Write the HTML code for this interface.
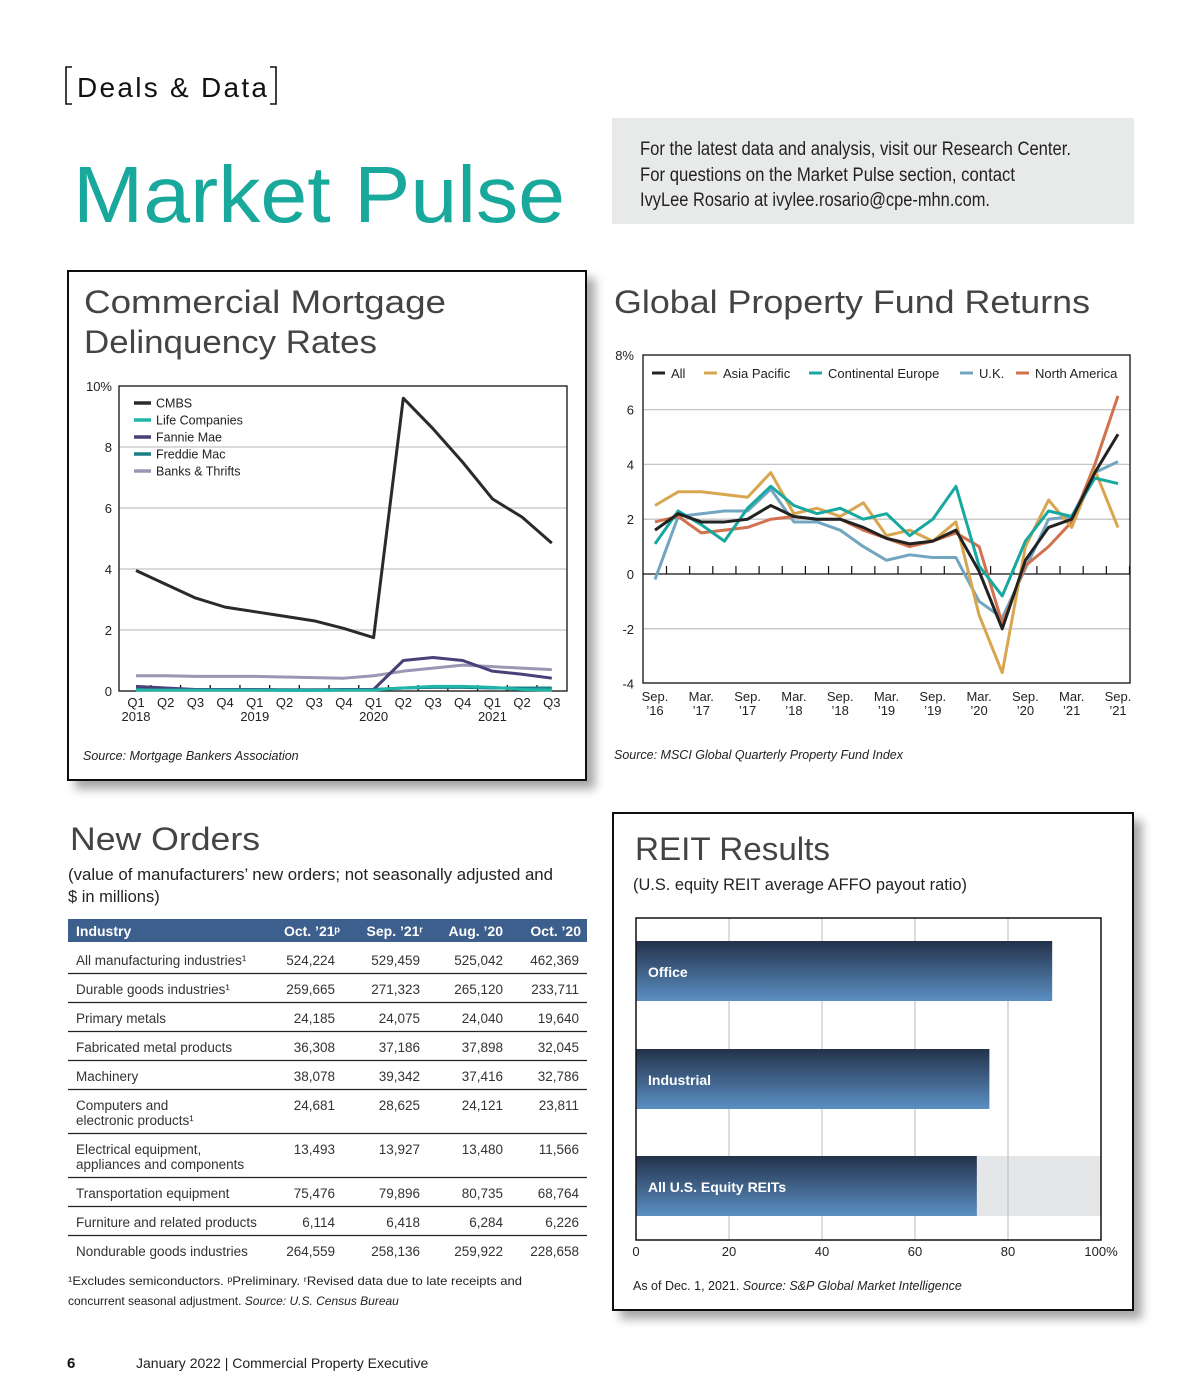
<!DOCTYPE html>
<html><head><meta charset="utf-8"><style>
html,body{margin:0;padding:0;background:#fff;}
svg{display:block;font-family:"Liberation Sans",sans-serif;}
</style></head><body>
<svg id="pg" width="1200" height="1400" viewBox="0 0 1200 1400" xmlns="http://www.w3.org/2000/svg">
<defs>
<filter id="sh" x="-10%" y="-10%" width="130%" height="130%"><feDropShadow dx="8" dy="8" stdDeviation="5" flood-color="#000" flood-opacity="0.35"/></filter>
<linearGradient id="bg" x1="0" y1="0" x2="0" y2="1"><stop offset="0" stop-color="#23324a"/><stop offset="1" stop-color="#5b8fc4"/></linearGradient>
</defs>
<!-- header -->
<g>
<path d="M72 67 H66 V104 H72 M270 67 H276 V104 H270" fill="none" stroke="#111" stroke-width="1.6"/>
<text x="77" y="97" font-size="28" fill="#111" textLength="190">Deals &amp; Data</text>
</g>
<text x="73" y="222" font-size="80" fill="#19a89c" textLength="492" lengthAdjust="spacingAndGlyphs">Market Pulse</text>
<g>
<rect x="612" y="118" width="522" height="106" fill="#e8e9e9"/>
<text x="640" y="155" font-size="19" fill="#222" textLength="431" lengthAdjust="spacingAndGlyphs">For the latest data and analysis, visit our Research Center.</text>
<text x="640" y="181" font-size="19" fill="#222" textLength="375" lengthAdjust="spacingAndGlyphs">For questions on the Market Pulse section, contact</text>
<text x="640" y="206" font-size="19" fill="#222" textLength="350" lengthAdjust="spacingAndGlyphs">IvyLee Rosario at ivylee.rosario@cpe-mhn.com.</text>
</g>

<!-- chart 1 box -->
<rect x="68" y="271" width="518" height="509" fill="#fff" stroke="#111" stroke-width="2" filter="url(#sh)"/>
<text x="84" y="313" font-size="32" fill="#444" textLength="362" lengthAdjust="spacingAndGlyphs">Commercial Mortgage</text>
<text x="84" y="353" font-size="32" fill="#444" textLength="293" lengthAdjust="spacingAndGlyphs">Delinquency Rates</text>
<g id="c1"></g>
<text x="83" y="760" font-size="12.5" font-style="italic" fill="#222">Source: Mortgage Bankers Association</text>

<!-- chart 2 -->
<text x="614" y="313" font-size="32" fill="#444" textLength="476" lengthAdjust="spacingAndGlyphs">Global Property Fund Returns</text>
<g id="c2"></g>
<text x="614" y="759" font-size="12.5" font-style="italic" fill="#222">Source: MSCI Global Quarterly Property Fund Index</text>

<!-- New Orders -->
<text x="70" y="850" font-size="32" fill="#444" textLength="190" lengthAdjust="spacingAndGlyphs">New Orders</text>
<text x="68" y="880" font-size="16.5" fill="#222" textLength="485" lengthAdjust="spacingAndGlyphs">(value of manufacturers’ new orders; not seasonally adjusted and</text>
<text x="68" y="902" font-size="16.5" fill="#222">$ in millions)</text>
<g id="tbl"></g>
<text x="68" y="1285" font-size="12" fill="#222" textLength="454" lengthAdjust="spacingAndGlyphs">¹Excludes semiconductors. ᵖPreliminary. ʳRevised data due to late receipts and</text>
<text x="68" y="1305" font-size="12" fill="#222">concurrent seasonal adjustment. <tspan font-style="italic">Source: U.S. Census Bureau</tspan></text>

<!-- REIT -->
<rect x="613" y="813" width="520" height="497" fill="#fff" stroke="#111" stroke-width="2" filter="url(#sh)"/>
<text x="635" y="860" font-size="32" fill="#444" textLength="195" lengthAdjust="spacingAndGlyphs">REIT Results</text>
<text x="633" y="890" font-size="16.5" fill="#222" textLength="334" lengthAdjust="spacingAndGlyphs">(U.S. equity REIT average AFFO payout ratio)</text>
<g id="c3"></g>
<text x="633" y="1290" font-size="12.5" fill="#222">As of Dec. 1, 2021. <tspan font-style="italic">Source: S&amp;P Global Market Intelligence</tspan></text>

<!-- footer -->
<text x="67" y="1368" font-size="15" font-weight="bold" fill="#111">6</text>
<text x="136" y="1368" font-size="14" fill="#222">January 2022  |  Commercial Property Executive</text>
</svg>
<script>
// ===== Chart 1 data =====
const c1Quarters = ["Q1","Q2","Q3","Q4","Q1","Q2","Q3","Q4","Q1","Q2","Q3","Q4","Q1","Q2","Q3"];
const c1Years = ["2018","2019","2020","2021"];
const c1YTicks = [0,2,4,6,8,10];
const c1Names = ["CMBS","Life Companies","Fannie Mae","Freddie Mac","Banks & Thrifts"];
const cmbs = [3.95,3.5,3.05,2.75,2.6,2.45,2.3,2.05,1.75,9.6,8.6,7.5,6.3,5.7,4.85];
const lifeCos = [0.03,0.03,0.03,0.03,0.03,0.02,0.02,0.03,0.03,0.1,0.15,0.15,0.12,0.05,0.03];
const fannie = [0.15,0.1,0.05,0.05,0.05,0.03,0.03,0.05,0.05,1.0,1.1,1.0,0.65,0.55,0.42];
const freddie = [0.06,0.05,0.05,0.05,0.05,0.04,0.04,0.04,0.05,0.1,0.12,0.12,0.1,0.1,0.1];
const banks = [0.5,0.5,0.48,0.48,0.48,0.46,0.44,0.42,0.5,0.65,0.75,0.85,0.8,0.75,0.7];
// ===== Chart 2 data =====
const c2XLabels = ["Sep.|’16","Mar.|’17","Sep.|’17","Mar.|’18","Sep.|’18","Mar.|’19","Sep.|’19","Mar.|’20","Sep.|’20","Mar.|’21","Sep.|’21"];
const c2YTicks = [-4,-2,0,2,4,6,8];
const c2Names = ["All","Asia Pacific","Continental Europe","U.K.","North America"];
const allFunds = [1.6,2.2,1.9,1.9,2.0,2.5,2.1,2.0,2.0,1.7,1.3,1.1,1.2,1.6,0.1,-2.0,0.5,1.7,2.0,3.7,5.1];
const asiaPac = [2.5,3.0,3.0,2.9,2.8,3.7,2.2,2.4,2.1,2.6,1.4,1.6,1.2,1.9,-1.5,-3.6,1.0,2.7,1.7,3.8,1.7];
const contEurope = [1.1,2.3,1.8,1.2,2.4,3.2,2.5,2.2,2.4,2.0,2.2,1.4,2.0,3.2,0.3,-0.8,1.2,2.3,2.1,3.5,3.3];
const uk = [-0.2,2.1,2.2,2.3,2.3,3.1,1.9,1.9,1.6,1.0,0.5,0.7,0.6,0.6,-1.0,-1.6,0.2,2.0,2.1,3.7,4.1];
const northAm = [1.9,2.1,1.5,1.6,1.7,2.0,2.1,2.0,2.0,1.6,1.3,1.0,1.2,1.5,1.0,-1.8,0.3,1.0,1.9,4.0,6.5];
// ===== Chart 3 data =====
const reitCats = ["Office","Industrial","All U.S. Equity REITs"];
const reitVals = [89.5,76,73.3];
const reitTicks = [0,20,40,60,80,100];
// ===== Table data =====
const tblHead = ["Industry","Oct. ’21ᵖ","Sep. ’21ʳ","Aug. ’20","Oct. ’20"];
const tblRows = [
["All manufacturing industries¹","524,224","529,459","525,042","462,369"],
["Durable goods industries¹","259,665","271,323","265,120","233,711"],
["Primary metals","24,185","24,075","24,040","19,640"],
["Fabricated metal products","36,308","37,186","37,898","32,045"],
["Machinery","38,078","39,342","37,416","32,786"],
["Computers and|electronic products¹","24,681","28,625","24,121","23,811"],
["Electrical equipment,|appliances and components","13,493","13,927","13,480","11,566"],
["Transportation equipment","75,476","79,896","80,735","68,764"],
["Furniture and related products","6,114","6,418","6,284","6,226"],
["Nondurable goods industries","264,559","258,136","259,922","228,658"]];

const NS="http://www.w3.org/2000/svg";
function mk(parent,tag,attrs,txt){const e=document.createElementNS(NS,tag);for(const k in attrs)e.setAttribute(k,attrs[k]);if(txt!==undefined)e.textContent=txt;parent.appendChild(e);return e;}

// ----- Chart 1 -----
(function(){
const g=document.getElementById('c1');
const L=119,R=567,T=386,B=691;
const x=i=>136+i*29.7, y=v=>B-v*(B-T)/10;
c1YTicks.forEach(v=>{
 if(v>0&&v<10){const l=mk(g,'line',{x1:L,x2:R,y1:y(v),y2:y(v),stroke:'#c4c4c4','stroke-width':1.3});
 
 }
 const t=mk(g,'text',{x:112,y:y(v)+5,'font-size':13,'text-anchor':'end',fill:'#222'},v===10?'10%':String(v));
 
 
});
const fr=mk(g,'rect',{x:L,y:T,width:R-L,height:B-T,fill:'none',stroke:'#111','stroke-width':1.3});


c1Quarters.forEach((q,i)=>{
 const t=mk(g,'text',{x:x(i),y:707,'font-size':13,'text-anchor':'middle',fill:'#222'},q);
 
 
 if(i<c1Quarters.length-1){const tk=mk(g,'line',{x1:x(i)+14.85,x2:x(i)+14.85,y1:B,y2:B-6,stroke:'#111','stroke-width':1.3});
 
 }
});
c1Years.forEach((yr,k)=>{
 const t=mk(g,'text',{x:x(k*4),y:721,'font-size':13,'text-anchor':'middle',fill:'#222'},yr);
 
 
});
const series=[banks,freddie,fannie,lifeCos,cmbs];
const cols=['#9a97b5','#1a7f86','#4a3f78','#1fb5a8','#2a2a2a'];
const names=['banks-thrifts-line','freddie-mac-line','fannie-mae-line','life-companies-line','cmbs-line'];
series.forEach((s,k)=>{
 const p=mk(g,'polyline',{points:s.map((v,i)=>x(i)+','+y(v)).join(' '),fill:'none',stroke:cols[k],'stroke-width':3,'stroke-linejoin':'round'});
 
 
});
const lc=['#2a2a2a','#1fb5a8','#4a3f78','#1a7f86','#9a97b5'];
c1Names.forEach((n,k)=>{
 const yy=403+k*17;
 const gg=mk(g,'g',{});
 
 
 mk(gg,'line',{x1:134,x2:151,y1:yy,y2:yy,stroke:lc[k],'stroke-width':3.5});
 mk(gg,'text',{x:156,y:yy+4.5,'font-size':12.5,fill:'#222'},n);
});
})();

// ----- Chart 2 -----
(function(){
const g=document.getElementById('c2');
const L=643,R=1130,T=355,B=683;
const x=i=>655+i*23.15, y=v=>574-v*27.4;
c2YTicks.forEach(v=>{
 if(v!==0&&v!==8&&v!==-4){const l=mk(g,'line',{x1:L,x2:R,y1:y(v),y2:y(v),stroke:'#c4c4c4','stroke-width':1.3});
 
 }
 const t=mk(g,'text',{x:634,y:y(v)+5,'font-size':13,'text-anchor':'end',fill:'#222'},v===8?'8%':String(v));
 
 
});
const fr=mk(g,'rect',{x:L,y:T,width:R-L,height:B-T,fill:'none',stroke:'#111','stroke-width':1.3});


const z=mk(g,'line',{x1:L,x2:R,y1:y(0),y2:y(0),stroke:'#111','stroke-width':1.3});


for(let i=0;i<allFunds.length;i++){
 const tk=mk(g,'line',{x1:x(i)+11.5,x2:x(i)+11.5,y1:y(0),y2:y(0)-8,stroke:'#111','stroke-width':1.2});
 
 
}
c2XLabels.forEach((lb,k)=>{
 const p=lb.split('|');
 const t=mk(g,'text',{x:x(k*2),y:701,'font-size':13,'text-anchor':'middle',fill:'#222'});
 
 
 mk(t,'tspan',{x:x(k*2)},p[0]);mk(t,'tspan',{x:x(k*2),dy:14},p[1]);
});
const series=[uk,northAm,asiaPac,contEurope,allFunds];
const cols=['#72a5c0','#d2714e','#d9a650','#17a8a0','#222'];
const names=['uk-line','north-america-line','asia-pacific-line','continental-europe-line','all-line'];
series.forEach((s,k)=>{
 const p=mk(g,'polyline',{points:s.map((v,i)=>x(i)+','+y(v)).join(' '),fill:'none',stroke:cols[k],'stroke-width':3,'stroke-linejoin':'round'});
 
 
});
const lc=['#222','#d9a650','#17a8a0','#72a5c0','#d2714e'];
const lx=[652,704,809,960,1016];
c2Names.forEach((n,k)=>{
 const gg=mk(g,'g',{});
 
 
 mk(gg,'line',{x1:lx[k],x2:lx[k]+13,y1:373,y2:373,stroke:lc[k],'stroke-width':3});
 mk(gg,'text',{x:lx[k]+19,y:378,'font-size':13,fill:'#222'},n);
});
})();

// ----- Table -----
(function(){
const g=document.getElementById('tbl');
const hr=mk(g,'rect',{x:68,y:919,width:519,height:23,fill:'#3d5f8d'});


const cx=[76,340,423,503,581];
tblHead.forEach((h,k)=>{
 const t=mk(g,'text',{x:cx[k],y:936,'font-size':14,'font-weight':'bold',fill:'#fff','text-anchor':k?'end':'start'},h);
 
 
});
const vx=[null,335,420,503,579];
let top=945;
tblRows.forEach((r,ri)=>{
 const two=r[0].includes('|');
 const h=two?44:29;
 const gg=mk(g,'g',{});
 
 
 const ty=top+20;
 const p=r[0].split('|');
 mk(gg,'text',{x:76,y:ty,'font-size':13.5,fill:'#333'},p[0]);
 if(p[1])mk(gg,'text',{x:76,y:ty+15,'font-size':13.5,fill:'#333'},p[1]);
 for(let k=1;k<5;k++)mk(gg,'text',{x:vx[k],y:ty,'font-size':13.5,fill:'#333','text-anchor':'end'},r[k]);
 top+=h;
 if(ri<tblRows.length-1)mk(gg,'line',{x1:68,x2:587,y1:top-0.5,y2:top-0.5,stroke:'#222','stroke-width':1.2});
});
})();

// ----- Chart 3 -----
(function(){
const g=document.getElementById('c3');
const L=636,R=1101,T=918,B=1240;
const x=v=>L+v*(R-L)/100;
const bandTop=[941,1049,1156], bh=60;
const bgb=mk(g,'rect',{x:L,y:bandTop[2],width:R-L,height:bh,fill:'#e5e6e7'});


reitTicks.forEach(v=>{
 if(v>0&&v<100){const l=mk(g,'line',{x1:x(v),x2:x(v),y1:T,y2:B,stroke:'#bbb','stroke-width':1});
 
 }
 const t=mk(g,'text',{x:x(v),y:1256,'font-size':13,'text-anchor':'middle',fill:'#222'},v===100?'100%':String(v));
 
 
});
reitCats.forEach((c,k)=>{
 const b=mk(g,'rect',{x:L,y:bandTop[k],width:x(reitVals[k])-L,height:bh,fill:'url(#bg)'});
 
 
 const t=mk(g,'text',{x:648,y:bandTop[k]+36,'font-size':14,'font-weight':'bold',fill:'#fff'},c);
 
 
});
const fr=mk(g,'path',{d:`M${L} ${T} H${R} V${B} H${L} Z`,fill:'none',stroke:'#111','stroke-width':1.5});


})();
</script>
</body></html>
